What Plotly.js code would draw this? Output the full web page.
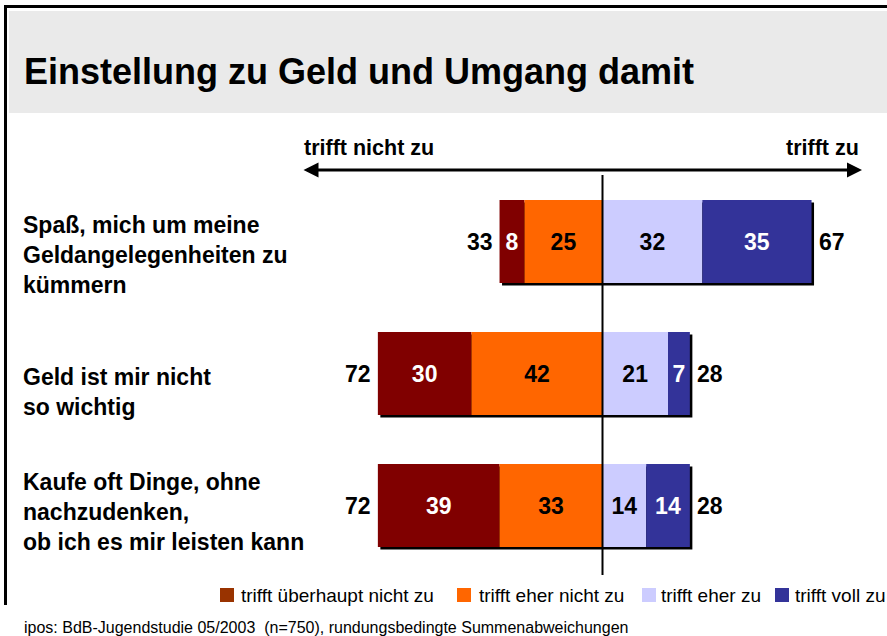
<!DOCTYPE html>
<html>
<head>
<meta charset="utf-8">
<script src="https://cdn.plot.ly/plotly-3.0.1.min.js"></script>
<style>html,body{margin:0;padding:0;background:#fff;}#chart{width:887px;height:636px;}</style>
</head>
<body>
<div id="chart"></div>
<script>
// ---- data ----
const categories = [
  "Spaß, mich um meine<br>Geldangelegenheiten zu<br>kümmern",
  "Geld ist mir nicht<br>so wichtig",
  "Kaufe oft Dinge, ohne<br>nachzudenken,<br>ob ich es mir leisten kann"
];
const seriesNames = ["trifft überhaupt nicht zu", "trifft eher nicht zu", "trifft eher zu", "trifft voll zu"];
const trifftUeberhauptNicht = [8, 30, 39];
const trifftEherNicht = [25, 42, 33];
const trifftEher = [32, 21, 14];
const trifftVoll = [35, 7, 14];
const title = "Einstellung zu Geld und Umgang damit";
const leftLabel = "trifft nicht zu";
const rightLabel = "trifft zu";
const footer = "ipos: BdB-Jugendstudie 05/2003  (n=750), rundungsbedingte Summenabweichungen";

// ---- styles ----
const W = 887, H = 636;
const barColors = ["#800000", "#FF6600", "#CCCCFF", "#333399"];
const legendColors = ["#993300", "#FF6600", "#CCCCFF", "#333399"];
const textColors = ["#FFFFFF", "#000000", "#000000", "#FFFFFF"];
const BOLD = "Liberation Sans, Arial, sans-serif";
const REG = "Liberation Sans, Arial, sans-serif";

const pxPerUnit = 3.12, zeroPx = 602.5;
const xRange = [-zeroPx / pxPerUnit, (W - zeroPx) / pxPerUnit];
const catSpacing = 132, firstCatPx = 241.5;
const yRange = [(H - firstCatPx) / catSpacing, -firstCatPx / catSpacing];
const barWidth = 83 / catSpacing;
const px = v => v / W;
const py = v => 1 - v / H;

const idx = categories.map((c, i) => i);
const leftTotal = idx.map(i => trifftUeberhauptNicht[i] + trifftEherNicht[i]);
const rightTotal = idx.map(i => trifftEher[i] + trifftVoll[i]);

const segs = [
  {vals: trifftUeberhauptNicht, base: idx.map(i => -leftTotal[i])},
  {vals: trifftEherNicht, base: idx.map(i => -trifftEherNicht[i])},
  {vals: trifftEher, base: idx.map(i => 0)},
  {vals: trifftVoll, base: idx.map(i => trifftEher[i])}
];

const traces = [];
// shadow
traces.push({
  type: "bar", orientation: "h",
  y: idx.map(i => i + 2.5 / catSpacing),
  x: idx.map(i => leftTotal[i] + rightTotal[i]),
  base: idx.map(i => -leftTotal[i] + 2.5 / pxPerUnit),
  width: barWidth,
  marker: {color: "#000000", line: {width: 0}},
  showlegend: false, hoverinfo: "skip"
});
segs.forEach((s, k) => {
  traces.push({
    type: "bar", orientation: "h", name: seriesNames[k],
    y: idx, x: s.vals, base: s.base, width: barWidth,
    marker: {color: barColors[k], line: {width: 0}},
    text: s.vals.map(String), textposition: "inside", insidetextanchor: "middle",
    textangle: 0, constraintext: "none",
    textfont: {family: BOLD, size: 23, color: textColors[k], weight: "bold"},
    showlegend: false, hoverinfo: "x+name"
  });
});

const annotations = [];
annotations.push({xref: "paper", yref: "paper", x: px(22), y: py(71), xanchor: "left", yanchor: "middle",
  text: "<b>" + title + "</b>", showarrow: false, font: {family: BOLD, size: 36, color: "#000"}});
annotations.push({xref: "paper", yref: "paper", x: px(302), y: py(148), xanchor: "left", yanchor: "middle",
  text: "<b>" + leftLabel + "</b>", showarrow: false, font: {family: BOLD, size: 21.5, color: "#000"}});
annotations.push({xref: "paper", yref: "paper", x: px(861), y: py(148), xanchor: "right", yanchor: "middle",
  text: "<b>" + rightLabel + "</b>", showarrow: false, font: {family: BOLD, size: 21.5, color: "#000"}});
// double arrow
annotations.push({xref: "x", yref: "paper", x: (862 - zeroPx) / pxPerUnit, y: py(170),
  axref: "x", ayref: "pixel", ax: (302 - zeroPx) / pxPerUnit, ay: 0,
  showarrow: true, arrowside: "end+start", arrowhead: 2, arrowsize: 1, arrowwidth: 3, arrowcolor: "#000", text: ""});
const labelShift = [-13.5, -18.5, -6.5];
idx.forEach(i => {
  annotations.push({xref: "paper", yref: "y", x: px(21), y: i, yshift: labelShift[i], xanchor: "left", yanchor: "middle",
    align: "left", text: "<b>" + categories[i].replace(/<br>/g, "</b><br><b>") + "</b>", showarrow: false,
    font: {family: BOLD, size: 23, color: "#000"}});
  annotations.push({xref: "x", yref: "y", x: -leftTotal[i], y: i, xshift: -5, xanchor: "right", yanchor: "middle",
    text: "<b>" + leftTotal[i] + "</b>", showarrow: false, font: {family: BOLD, size: 23, color: "#000"}});
  annotations.push({xref: "x", yref: "y", x: rightTotal[i], y: i, xshift: 5, xanchor: "left", yanchor: "middle",
    text: "<b>" + rightTotal[i] + "</b>", showarrow: false, font: {family: BOLD, size: 23, color: "#000"}});
});
// legend (manual)
const legSquareX = [220, 457, 642, 775];
const legTextX = [239, 477, 659, 793];
const shapes = [];
// header band and frame
shapes.push({type: "rect", xref: "paper", yref: "paper", x0: px(9), x1: 1, y0: py(113), y1: py(11),
  fillcolor: "#EAEAEA", line: {width: 0}, layer: "below"});
shapes.push({type: "line", xref: "paper", yref: "paper", x0: px(4), x1: 1, y0: py(6.5), y1: py(6.5),
  line: {color: "#000", width: 3}});
shapes.push({type: "line", xref: "paper", yref: "paper", x0: px(5.5), x1: px(5.5), y0: py(5), y1: py(605),
  line: {color: "#000", width: 3}});
// zero line
shapes.push({type: "line", xref: "x", yref: "paper", x0: 0, x1: 0, y0: py(175), y1: py(575),
  line: {color: "#000", width: 2}, layer: "above"});
seriesNames.forEach((n, k) => {
  shapes.push({type: "rect", xref: "paper", yref: "paper", x0: px(legSquareX[k]), x1: px(legSquareX[k] + 14),
    y0: py(602), y1: py(588), fillcolor: legendColors[k], line: {width: 0}});
  annotations.push({xref: "paper", yref: "paper", x: px(legTextX[k]), y: py(595), xanchor: "left", yanchor: "middle",
    text: n, showarrow: false, font: {family: REG, size: 19, color: "#000"}});
});
annotations.push({xref: "paper", yref: "paper", x: px(22), y: py(627), xanchor: "left", yanchor: "middle",
  text: footer, showarrow: false, font: {family: REG, size: 16, color: "#000"}});

const layout = {
  width: W, height: H,
  margin: {l: 0, r: 0, t: 0, b: 0, pad: 0},
  paper_bgcolor: "#FFFFFF", plot_bgcolor: "rgba(0,0,0,0)",
  barmode: "overlay",
  showlegend: false,
  xaxis: {range: xRange, visible: false, fixedrange: true},
  yaxis: {range: yRange, visible: false, fixedrange: true},
  annotations: annotations,
  shapes: shapes
};
Plotly.newPlot("chart", traces, layout, {displayModeBar: false, staticPlot: true});
</script>
</body>
</html>
